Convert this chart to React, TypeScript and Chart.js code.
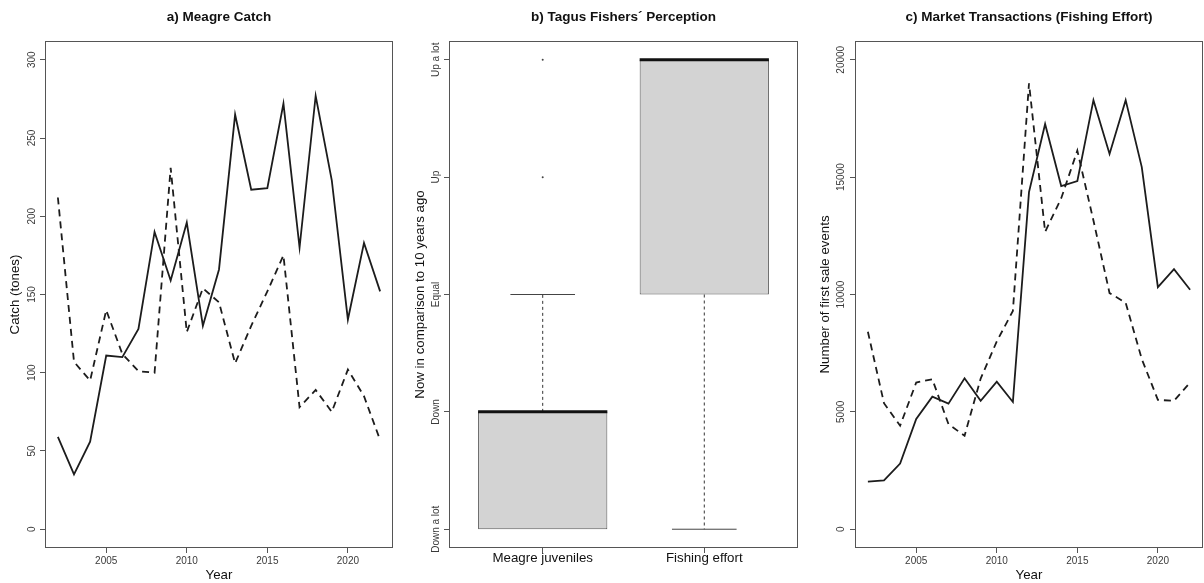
import React, { useEffect, useRef } from 'react';
import { Chart, registerables } from 'chart.js';

Chart.register(...registerables);

// ---------- data ----------
const years = [2002, 2003, 2004, 2005, 2006, 2007, 2008, 2009, 2010, 2011, 2012, 2013, 2014, 2015, 2016, 2017, 2018, 2019, 2020, 2021, 2022];
const yearTicks = [2005, 2010, 2015, 2020];

const catchSolid = [59, 35, 56, 111, 110, 128, 190, 159, 196, 130, 166, 265, 217, 218, 272, 180, 277, 223, 134, 183, 152];
const catchDashed = [212, 107, 95, 140, 112, 101, 100, 231, 126, 154, 145, 106, 130, 152, 175, 78, 89, 75, 102, 85, 57];
const catchTicks = [0, 50, 100, 150, 200, 250, 300];

const marketSolid = [2030, 2080, 2800, 4700, 5650, 5350, 6430, 5470, 6290, 5420, 14360, 17260, 14620, 14830, 18280, 15990, 18280, 15430, 10310, 11080, 10200];
const marketDashed = [8410, 5370, 4410, 6250, 6390, 4480, 3980, 6420, 8000, 9300, 19000, 12670, 14100, 16130, 13150, 10060, 9650, 7250, 5510, 5470, 6250];
const marketTicks = [0, 5000, 10000, 15000, 20000];

const perceptionCategories = ['Meagre juveniles', 'Fishing effort'];
const perceptionLevels = ['Down a lot', 'Down', 'Equal', 'Up', 'Up a lot'];
const levelTicks = [1, 2, 3, 4, 5];
const boxLower = [1, 1];
const boxQ1 = [1, 3];
const boxMedian = [2, 5];
const boxQ3 = [2, 5];
const boxUpper = [3, 5];
const boxOutliers = [[4, 5], []];

// ---------- styling helpers ----------
const FONT = "'Liberation Sans', Arial, Helvetica, sans-serif";
const TICK_LEN = 5;
const LINE_COLOR = '#1c1c1c';
const AXIS_COLOR = '#555555';

function measureWidest(texts: string[], size: number): number {
  const ctx = document.createElement('canvas').getContext('2d') as CanvasRenderingContext2D;
  ctx.font = `${size}px ${FONT}`;
  return Math.max(...texts.map((t) => ctx.measureText(t).width));
}

const boxPlugin = {
  id: 'rBox',
  afterDraw(chart: any) {
    const { ctx, chartArea: a } = chart;
    ctx.save();
    ctx.strokeStyle = AXIS_COLOR;
    ctx.lineWidth = 1;
    ctx.strokeRect(a.left + 0.5, a.top + 0.5, a.width - 1, a.height - 1);
    ctx.restore();
  },
};

function yAxis(o: { min: number; max: number; ticks: number[]; fmt: (v: number) => string; width: number; labelCenter: number; title: string; titlePad: number }) {
  const labels = o.ticks.map(o.fmt);
  const widest = measureWidest(labels, 10);
  const pad = o.width - TICK_LEN - widest / 2 - o.labelCenter;
  return {
    type: 'linear',
    position: 'left',
    min: o.min,
    max: o.max,
    offset: false,
    afterBuildTicks: (s: any) => {
      s.ticks = o.ticks.map((v) => ({ value: v }));
    },
    afterFit: (s: any) => {
      s.width = o.width;
    },
    ticks: {
      autoSkip: false,
      minRotation: 90,
      maxRotation: 90,
      crossAlign: 'center',
      padding: pad,
      color: '#3a3a3a',
      font: { size: 10, family: FONT },
      callback: (v: any) => o.fmt(Number(v)),
    },
    grid: { drawOnChartArea: false, drawTicks: true, tickLength: TICK_LEN, color: AXIS_COLOR, lineWidth: 1, offset: false },
    border: { display: false },
    title: {
      display: true,
      text: o.title,
      color: '#111111',
      font: { size: 13.3, family: FONT },
      padding: { top: o.titlePad, bottom: 0 },
    },
  };
}

function xAxis(o: { min: number; max: number; ticks: number[]; fmt: (v: number) => string; title?: string; fontSize: number; pad: number; color: string }) {
  return {
    type: 'linear',
    position: 'bottom',
    min: o.min,
    max: o.max,
    offset: false,
    afterBuildTicks: (s: any) => {
      s.ticks = o.ticks.map((v) => ({ value: v }));
    },
    afterFit: (s: any) => {
      s.height = 35;
    },
    ticks: {
      autoSkip: false,
      minRotation: 0,
      maxRotation: 0,
      padding: o.pad,
      color: o.color,
      font: { size: o.fontSize, family: FONT },
      callback: (v: any) => o.fmt(Number(v)),
    },
    grid: { drawOnChartArea: false, drawTicks: true, tickLength: TICK_LEN, color: AXIS_COLOR, lineWidth: 1, offset: false },
    border: { display: false },
    title: {
      display: !!o.title,
      text: o.title || '',
      color: '#111111',
      font: { size: 13.3, family: FONT },
      padding: { top: 0, bottom: 0 },
    },
  };
}

function titleOpts(text: string) {
  return {
    display: true,
    text,
    fullSize: false,
    color: '#111111',
    font: { size: 13.5, weight: 'bold', family: FONT },
    padding: { top: 9.6, bottom: 15.2 },
  };
}

function seriesLines(values: number[], dashed: boolean) {
  return {
    type: 'line',
    data: years.map((y, i) => ({ x: y, y: values[i] })),
    borderColor: LINE_COLOR,
    borderWidth: 1.8,
    borderDash: dashed ? [7, 5] : [],
    pointRadius: 0,
    tension: 0,
    fill: false,
  };
}

function lineChartConfig(o: any) {
  return {
    type: 'line',
    data: { datasets: [seriesLines(o.solid, false), seriesLines(o.dashed, true)] },
    options: {
      responsive: false,
      maintainAspectRatio: false,
      animation: false,
      events: [],
      layout: { padding: { left: 0, right: o.padRight, top: 0, bottom: 0 } },
      plugins: { legend: { display: false }, tooltip: { enabled: false }, title: titleOpts(o.title) },
      scales: {
        x: xAxis({ min: 2001.2, max: 2022.8, ticks: yearTicks, fmt: (v) => String(v), title: 'Year', fontSize: 10, pad: 2, color: '#3a3a3a' }),
        y: yAxis({ min: o.yMin, max: o.yMax, ticks: o.yTicks, fmt: (v) => String(v), width: o.yWidth, labelCenter: o.labelCenter, title: o.yTitle, titlePad: o.titlePad }),
      },
    },
    plugins: [boxPlugin],
  };
}

function segment(x1: number, y1: number, x2: number, y2: number, width: number, dash: number[], color: string) {
  return {
    type: 'line',
    data: [{ x: x1, y: y1 }, { x: x2, y: y2 }],
    borderColor: color,
    borderWidth: width,
    borderDash: dash,
    pointRadius: 0,
    fill: false,
    order: 1,
  };
}

function boxChartConfig() {
  const datasets: any[] = [];
  perceptionCategories.forEach((_, i) => {
    const c = i + 1;
    datasets.push(segment(c - 0.4, boxMedian[i], c + 0.4, boxMedian[i], 3, [], '#111111'));
    if (boxUpper[i] > boxQ3[i]) datasets.push(segment(c, boxQ3[i], c, boxUpper[i], 1, [3, 3], '#333333'));
    if (boxLower[i] < boxQ1[i]) datasets.push(segment(c, boxQ1[i], c, boxLower[i], 1, [3, 3], '#333333'));
    if (boxUpper[i] > boxQ3[i]) datasets.push(segment(c - 0.2, boxUpper[i], c + 0.2, boxUpper[i], 1, [], '#444444'));
    if (boxLower[i] < boxQ1[i]) datasets.push(segment(c - 0.2, boxLower[i], c + 0.2, boxLower[i], 1, [], '#444444'));
  });
  datasets.push({
    type: 'scatter',
    data: boxOutliers.flatMap((vals, i) => vals.map((v) => ({ x: i + 1, y: v }))),
    backgroundColor: '#444444',
    borderColor: '#444444',
    pointRadius: 1,
    borderWidth: 0,
    showLine: false,
    order: 0,
  });
  datasets.push({
    type: 'bar',
    data: perceptionCategories.map((_, i) => ({ x: i + 1, y: [boxQ1[i], boxQ3[i]] })),
    backgroundColor: '#d3d3d3',
    borderColor: '#555555',
    borderWidth: 1,
    borderSkipped: false,
    categoryPercentage: 0.8,
    barPercentage: 1,
    order: 10,
  });
  return {
    type: 'bar',
    data: { datasets },
    options: {
      responsive: false,
      maintainAspectRatio: false,
      animation: false,
      events: [],
      layout: { padding: { left: 0, right: 5, top: 0, bottom: 0 } },
      plugins: { legend: { display: false }, tooltip: { enabled: false }, title: titleOpts('b) Tagus Fishers\u00b4 Perception') },
      scales: {
        x: xAxis({ min: 0.42, max: 2.58, ticks: [1, 2], fmt: (v) => perceptionCategories[Math.round(v) - 1] || '', fontSize: 13.3, pad: -3, color: '#111111' }),
        y: yAxis({ min: 0.84, max: 5.16, ticks: levelTicks, fmt: (v) => perceptionLevels[Math.round(v) - 1] || '', width: 48, labelCenter: 35.7, title: 'Now in comparison to 10 years ago', titlePad: 11 }),
      },
    },
    plugins: [boxPlugin],
  };
}

export default function App() {
  const refA = useRef<HTMLCanvasElement>(null);
  const refB = useRef<HTMLCanvasElement>(null);
  const refC = useRef<HTMLCanvasElement>(null);

  useEffect(() => {
    const a = new Chart(refA.current as any, lineChartConfig({
      title: 'a) Meagre Catch', solid: catchSolid, dashed: catchDashed,
      yMin: -12, yMax: 312, yTicks: catchTicks, yWidth: 45, labelCenter: 32, yTitle: 'Catch (tones)', titlePad: 7, padRight: 8,
    }) as any);
    const b = new Chart(refB.current as any, boxChartConfig() as any);
    const c = new Chart(refC.current as any, lineChartConfig({
      title: 'c) Market Transactions (Fishing Effort)', solid: marketSolid, dashed: marketDashed,
      yMin: -800, yMax: 20800, yTicks: marketTicks, yWidth: 52, labelCenter: 38.7, yTitle: 'Number of first sale events', titlePad: 14, padRight: 1,
    }) as any);
    return () => {
      a.destroy();
      b.destroy();
      c.destroy();
    };
  }, []);

  return (
    <div style={{ position: 'fixed', left: 0, top: 0, width: 1204, height: 583, background: '#ffffff' }}>
      <canvas ref={refA} width={401} height={583} style={{ position: 'absolute', left: 0, top: 0, width: 401, height: 583 }} />
      <canvas ref={refB} width={402} height={583} style={{ position: 'absolute', left: 401, top: 0, width: 402, height: 583 }} />
      <canvas ref={refC} width={401} height={583} style={{ position: 'absolute', left: 803, top: 0, width: 401, height: 583 }} />
    </div>
  );
}
